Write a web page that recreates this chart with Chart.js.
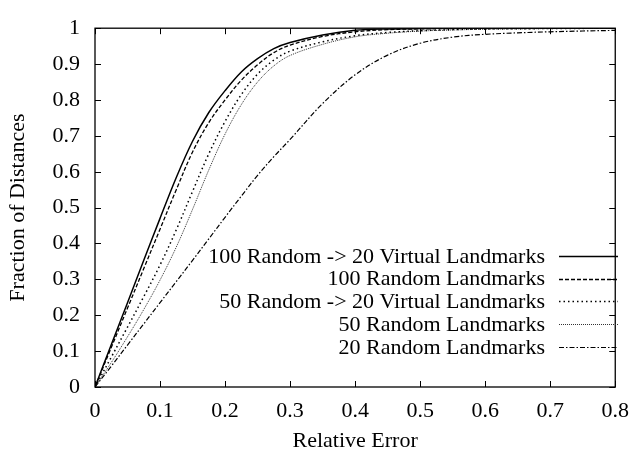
<!DOCTYPE html>
<html>
<head>
<meta charset="utf-8">
<script src="https://cdn.jsdelivr.net/npm/chart.js@4/dist/chart.umd.min.js"></script>
<style>
  html, body { margin: 0; padding: 0; background: #fff; }
  #wrap { width: 640px; height: 456px; }
</style>
</head>
<body>
<div id="wrap"><canvas id="chart" width="640" height="456"></canvas></div>
<script>
// relative error sample points
const errX = [0, 0.025, 0.05, 0.075, 0.1, 0.125, 0.15, 0.175, 0.2, 0.225, 0.25, 0.275, 0.3, 0.35, 0.4, 0.45, 0.5, 0.55, 0.6, 0.7, 0.8];

// fraction of distances for each landmark setup
const virt100 = [0, 0.118, 0.235, 0.353, 0.47, 0.584, 0.685, 0.765, 0.826, 0.878, 0.915, 0.943, 0.96, 0.981, 0.994, 0.998, 0.999, 1, 1, 1, 1];
const rand100 = [0, 0.11, 0.22, 0.33, 0.44, 0.55, 0.655, 0.737, 0.8, 0.855, 0.898, 0.932, 0.953, 0.977, 0.99, 0.996, 0.998, 0.999, 1, 1, 1];
const virt50  = [0, 0.083, 0.167, 0.252, 0.34, 0.438, 0.545, 0.65, 0.74, 0.815, 0.872, 0.911, 0.936, 0.962, 0.979, 0.988, 0.993, 0.996, 0.998, 0.999, 1];
const rand50  = [0, 0.068, 0.14, 0.216, 0.298, 0.39, 0.495, 0.605, 0.705, 0.787, 0.85, 0.895, 0.924, 0.955, 0.976, 0.986, 0.992, 0.995, 0.997, 0.999, 1];
const rand20  = [0, 0.058, 0.117, 0.176, 0.235, 0.294, 0.353, 0.413, 0.473, 0.532, 0.59, 0.642, 0.69, 0.79, 0.87, 0.925, 0.958, 0.975, 0.983, 0.99, 0.994];

const seriesNames = [
  '100 Random -> 20 Virtual Landmarks',
  '100 Random Landmarks',
  '50 Random -> 20 Virtual Landmarks',
  '50 Random Landmarks',
  '20 Random Landmarks'
];
const xTicks = [0, 0.1, 0.2, 0.3, 0.4, 0.5, 0.6, 0.7, 0.8];
const yTicks = [0, 0.1, 0.2, 0.3, 0.4, 0.5, 0.6, 0.7, 0.8, 0.9, 1];

const FONT = "'Liberation Serif', 'DejaVu Serif', serif";
const FSIZE = 22;

const toPoints = ys => errX.map((x, i) => ({ x: x, y: ys[i] }));

const styles = [
  { borderWidth: 1.5, borderDash: [], borderColor: '#000' },
  { borderWidth: 1.3, borderDash: [4, 2], borderColor: '#000' },
  { borderWidth: 1.5, borderDash: [1.5, 3], borderColor: '#000' },
  { borderWidth: 1, borderDash: [1, 1], borderColor: '#333' },
  { borderWidth: 1.2, borderDash: [5, 2, 1.5, 2], borderColor: '#000' }
];

const datasets = [virt100, rand100, virt50, rand50, rand20].map((ys, i) => ({
  label: seriesNames[i],
  data: toPoints(ys),
  borderColor: styles[i].borderColor,
  borderWidth: styles[i].borderWidth,
  borderDash: styles[i].borderDash,
  pointRadius: 0,
  fill: false,
  tension: 0.35
}));

// gnuplot-ish frame with inward ticks on all four sides
const framePlugin = {
  id: 'frame',
  afterDatasetsDraw(chart) {
    const { ctx, chartArea: a, scales } = chart;
    const len = 6;
    ctx.save();
    ctx.strokeStyle = '#000';
    ctx.lineWidth = 1.3;
    ctx.setLineDash([]);
    ctx.strokeRect(a.left, a.top, a.right - a.left, a.bottom - a.top);
    ctx.lineWidth = 1;
    ctx.beginPath();
    xTicks.forEach(v => {
      const px = Math.round(scales.x.getPixelForValue(v)) + 0.5;
      ctx.moveTo(px, a.bottom); ctx.lineTo(px, a.bottom - len);
      ctx.moveTo(px, a.top); ctx.lineTo(px, a.top + len);
    });
    yTicks.forEach(v => {
      const py = Math.round(scales.y.getPixelForValue(v)) + 0.5;
      ctx.moveTo(a.left, py); ctx.lineTo(a.left + len, py);
      ctx.moveTo(a.right, py); ctx.lineTo(a.right - len, py);
    });
    ctx.stroke();
    ctx.restore();
  }
};

// legend: right-aligned text with the line sample after it
const keyPlugin = {
  id: 'key',
  afterDraw(chart) {
    const { ctx } = chart;
    const textRight = 545, sampleL = 559, sampleR = 618;
    const top = 256, step = 22.7;
    ctx.save();
    ctx.font = FSIZE + 'px ' + FONT;
    ctx.fillStyle = '#000';
    ctx.textAlign = 'right';
    ctx.textBaseline = 'middle';
    chart.data.datasets.forEach((ds, i) => {
      const y = top + i * step;
      ctx.fillText(ds.label, textRight, y + 1);
      ctx.beginPath();
      ctx.strokeStyle = ds.borderColor;
      ctx.lineWidth = ds.borderWidth;
      ctx.setLineDash(ds.borderDash);
      ctx.moveTo(sampleL, Math.round(y) + 0.5);
      ctx.lineTo(sampleR, Math.round(y) + 0.5);
      ctx.stroke();
    });
    ctx.restore();
  }
};

new Chart(document.getElementById('chart'), {
  type: 'line',
  data: { datasets: datasets },
  options: {
    responsive: false,
    animation: false,
    layout: { padding: { top: 13, right: 14, left: 0, bottom: 0 } },
    plugins: {
      legend: { display: false },
      tooltip: { enabled: false }
    },
    scales: {
      x: {
        type: 'linear',
        min: 0,
        max: 0.8,
        afterBuildTicks: s => { s.ticks = xTicks.map(v => ({ value: v })); },
        afterFit: s => { s.height = 69; },
        grid: { display: false, drawTicks: false },
        border: { display: false },
        ticks: {
          color: '#000',
          font: { family: FONT, size: FSIZE },
          padding: 11,
          maxRotation: 0,
          callback: v => String(v)
        },
        title: {
          display: true,
          text: 'Relative Error',
          color: '#000',
          font: { family: FONT, size: FSIZE },
          padding: { top: 0, bottom: 2 }
        }
      },
      y: {
        type: 'linear',
        min: 0,
        max: 1,
        afterBuildTicks: s => { s.ticks = yTicks.map(v => ({ value: v })); },
        afterFit: s => { s.width = 95; },
        grid: { display: false, drawTicks: false },
        border: { display: false },
        ticks: {
          color: '#000',
          font: { family: FONT, size: FSIZE },
          padding: 15,
          callback: v => String(v)
        },
        title: {
          display: true,
          text: 'Fraction of Distances',
          color: '#000',
          font: { family: FONT, size: FSIZE },
          padding: { top: 5, bottom: 0 }
        }
      }
    }
  },
  plugins: [framePlugin, keyPlugin]
});
</script>
</body>
</html>
